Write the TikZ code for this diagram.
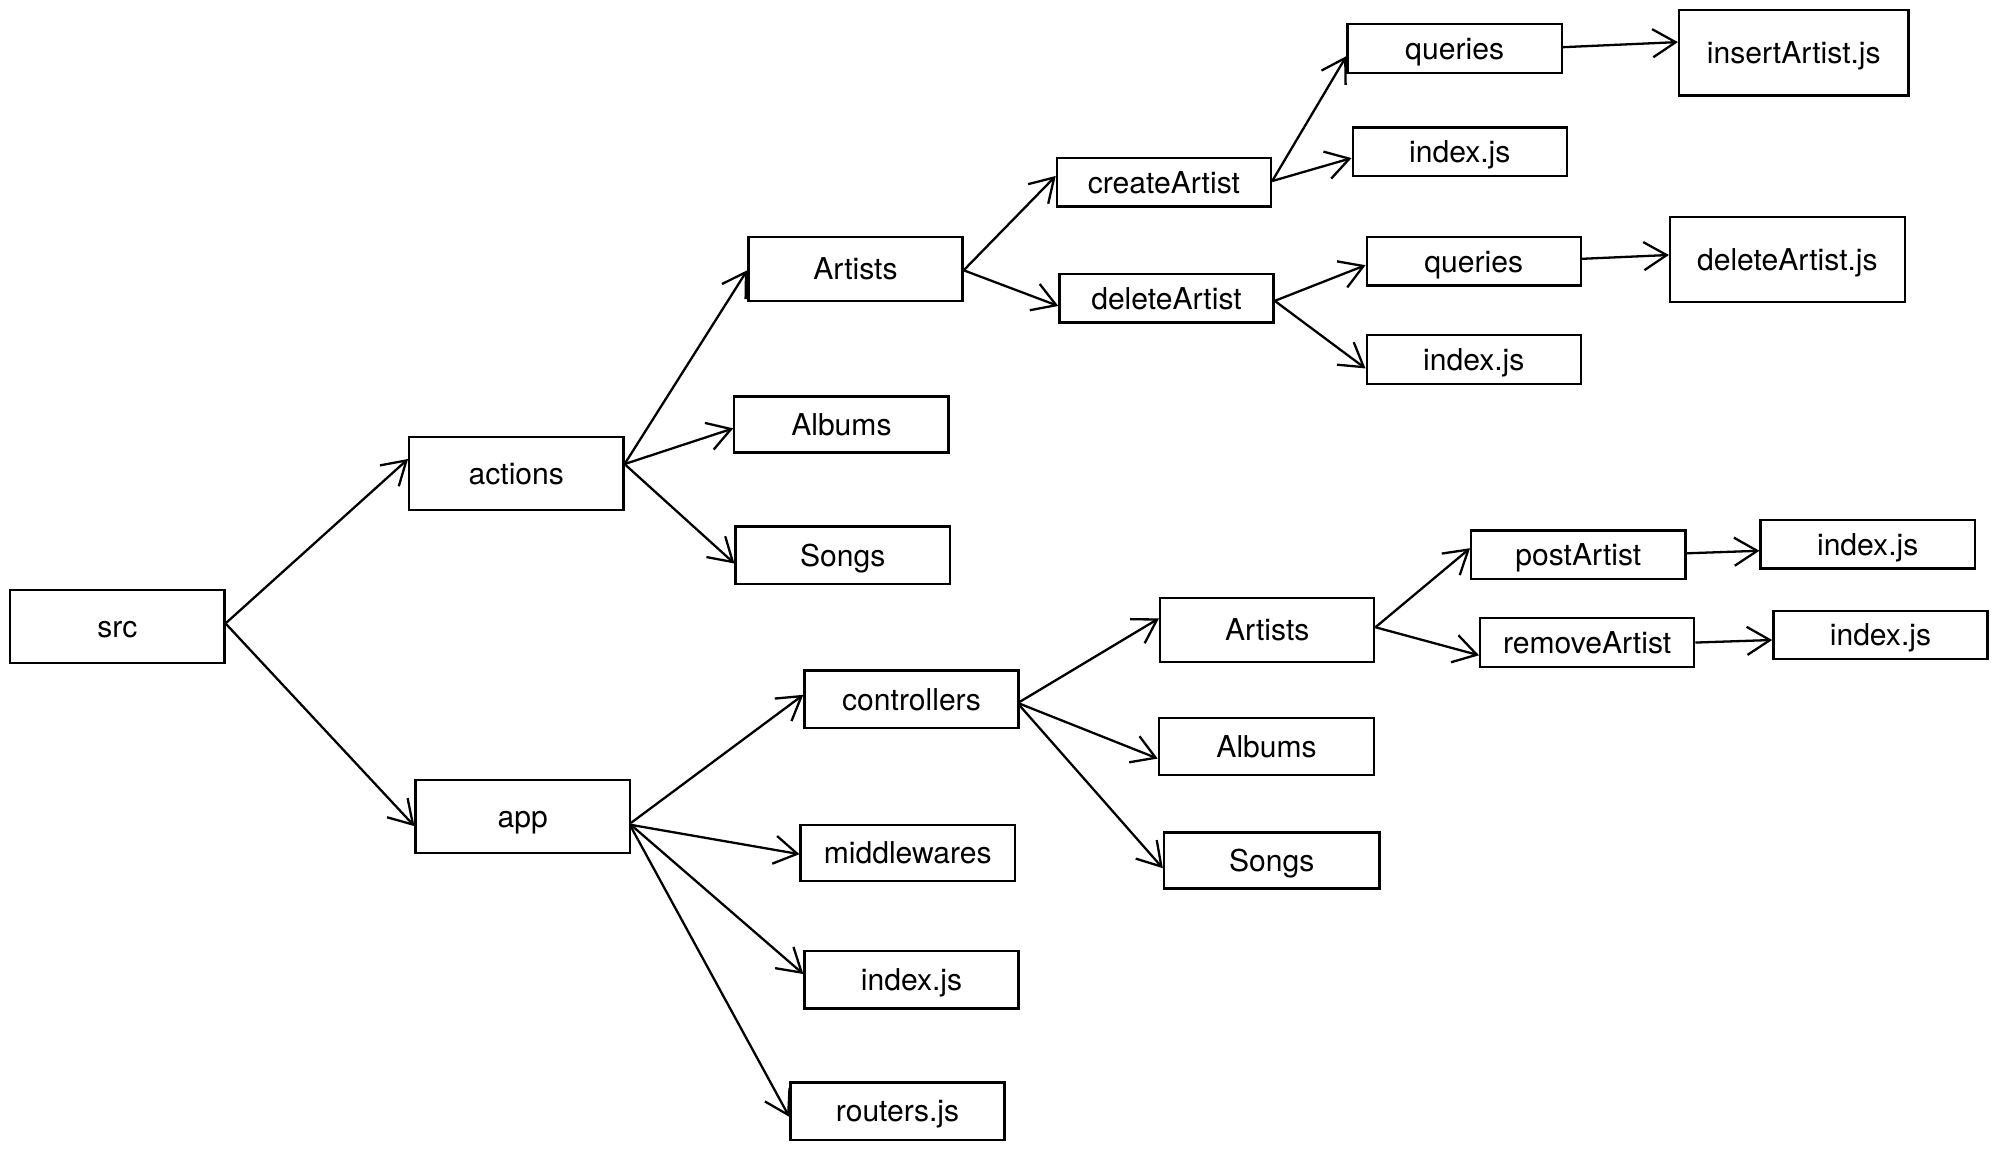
\documentclass[tikz,border=0pt]{standalone}
\usepackage{fontspec}
\setmainfont{TeX Gyre Heros}
\usetikzlibrary{arrows.meta}

\begin{document}
\begin{tikzpicture}[>={Straight Barb[length=9pt,width=11pt]},x=0.5pt,y=-0.5pt,
  box/.style={draw,line width=.9pt,inner sep=0pt,text height=10pt,text depth=1.5pt,
    font=\fontsize{11.8}{14}\selectfont}]
\useasboundingbox (0,0) rectangle (1568,902);
\foreach \n/\x/\y/\w/\h/\t in {
  src/92/491.5/168/57/src, actions/405/371.5/168/57/actions, app/410/640.5/168/57/app,
  artA/671/211/168/50/Artists, albA/660/333/168/44/Albums, sngA/661/435.5/168/45/Songs,
  create/913/143/168/38/createArtist, delete/915/234/168/38/deleteArtist,
  qryC/1141/38/168/38/queries, idxC/1145/119/168/38/index.js,
  qryD/1156/205/168/38/queries, idxD/1156/282/168/38/index.js,
  insert/1407/41.5/180/67/insertArtist.js, delJs/1402/203.5/184/67/deleteArtist.js,
  ctrl/715/548.5/168/45/controllers, mid/712/669/168/44/middlewares,
  idxApp/715/768.5/168/45/index.js, rout/704/871.5/168/45/routers.js,
  artC/994/494/168/50/Artists, albC/993.5/585.5/169/45/Albums, sngC/997.5/675/169/44/Songs,
  post/1238/435/168/38/postArtist, remove/1245/504/168/38/removeArtist,
  idxP/1465/427/168/38/index.js, idxR/1475/498/168/38/index.js}
  \node[box,minimum width=\w*0.5pt,minimum height=\h*0.5pt] (\n) at (\x,\y) {\t};
\foreach \a/\p/\b/\q in {
  src/-2.5/actions/-11.5, src/-2.5/app/7.5,
  actions/-7.5/artA/1, actions/-7.5/albA/3, actions/-7.5/sngA/6.5,
  artA/1/create/-5, artA/1/delete/6,
  create/-1/qryC/6, create/-1/idxC/5, delete/2/qryD/3, delete/2/idxD/7,
  qryC/-1/insert/-8.5, qryD/-2/delJs/-3.5,
  app/5/ctrl/-3.5, app/6.5/mid/1, app/6.5/idxApp/-4.5, app/8/rout/4.5,
  ctrl/2/artC/-9, ctrl/3.5/albC/9.5, ctrl/5/sngC/6,
  artC/-2/post/-5, artC/-2/remove/10, post/-1/idxP/5, remove/0/idxR/4}
  \draw[->,line width=.9pt] ([shift={(0,\p)}]\a.east) -- ([shift={(0,\q)}]\b.west);
\end{tikzpicture}
\end{document}
